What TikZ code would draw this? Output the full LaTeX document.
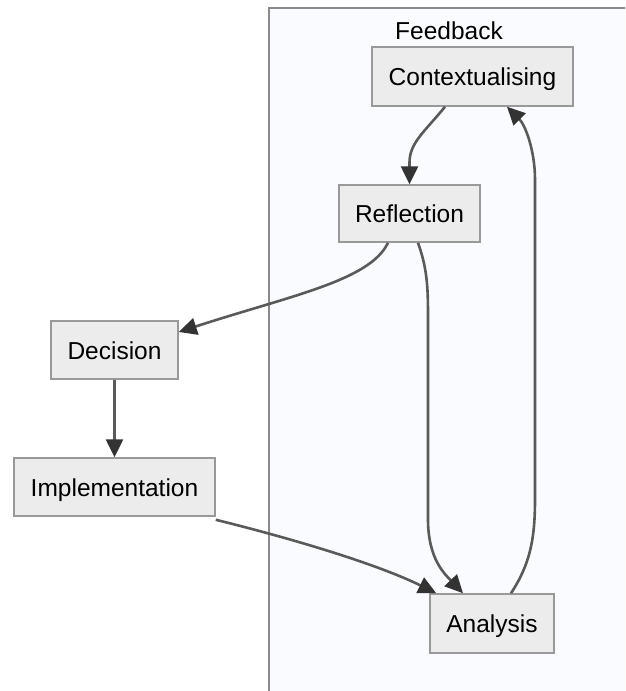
\documentclass[tikz,border=0pt]{standalone}
\usepackage{fontspec}
\setmainfont{Liberation Sans}
\usetikzlibrary{arrows.meta}
\definecolor{nodefill}{HTML}{ECECEC}
\definecolor{nodeline}{HTML}{999999}
\definecolor{edgecol}{HTML}{5A5A5A}
\definecolor{tipcol}{HTML}{333333}
\definecolor{clusterfill}{HTML}{FAFBFE}
\definecolor{clusterline}{HTML}{8A8A8A}
\tikzset{
  lbl/.style={font=\fontsize{24.5}{29}\selectfont, text=black,
    text height=23pt, text depth=5pt, inner sep=0pt},
  box/.style={lbl, draw=nodeline, fill=nodefill, line width=1.5pt},
  flow/.style={draw=edgecol, line width=2.6pt,
    -{Triangle[length=18pt,width=17pt,color=tipcol]}},
}
\begin{document}
\begin{tikzpicture}[x=1pt,y=-1pt]
\useasboundingbox (0,0) rectangle (625,691);
\begin{scope}
\clip (0,0) rectangle (625,691);
\fill[white] (0,0) rectangle (625,691);
\draw[fill=clusterfill, draw=clusterline, line width=1.5pt] (269,8) rectangle (660,720);
\end{scope}
\node[lbl] (fb) at (449,30) {Feedback};
\node[box, minimum width=201pt, minimum height=59pt] (ctx) at (472.5,76.5) {Contextualising};
\node[box, minimum width=141pt, minimum height=57pt] (refl) at (409.5,213.5) {Reflection};
\node[box, minimum width=127pt, minimum height=58pt] (dec) at (114.5,350) {Decision};
\node[box, minimum width=201pt, minimum height=58pt] (impl) at (114.5,487) {Implementation};
\node[box, minimum width=124pt, minimum height=59pt] (ana) at (492,623.5) {Analysis};
% edges
\draw[flow] ([xshift=-27.5pt]ctx.south) .. controls ([xshift=-47pt,yshift=-24pt]ctx.south) and ([xshift=-63pt,yshift=-36pt]ctx.south) .. ([yshift=22pt]refl.north) -- (refl.north);
\draw[flow] ([xshift=-21.5pt]refl.south) .. controls ([xshift=-39.5pt,yshift=-38pt]refl.south) and ([xshift=-119.5pt,yshift=-53pt]refl.south) .. ([yshift=18pt]dec.east);
\draw[flow] (dec.south) -- (impl.north);
\draw[flow] ([xshift=8.5pt]refl.south) .. controls ([xshift=18.5pt,yshift=-28pt]refl.south) and ([xshift=18.5pt,yshift=-48pt]refl.south) .. ([xshift=18.5pt,yshift=-78pt]refl.south) -- ([xshift=-64pt,yshift=74pt]ana.north) .. controls ([xshift=-64pt,yshift=34pt]ana.north) and ([xshift=-47pt,yshift=19pt]ana.north) .. ([xshift=-29pt]ana.north);
\draw[flow] ([yshift=-3pt]impl.south east) .. controls ([xshift=85pt,yshift=-24pt]impl.south east) and ([xshift=165pt,yshift=-49pt]impl.south east) .. ([xshift=7pt]ana.north west);
\draw[flow] ([xshift=19pt]ana.north) .. controls ([xshift=38pt,yshift=29pt]ana.north) and ([xshift=43pt,yshift=54pt]ana.north) .. ([xshift=43pt,yshift=94pt]ana.north) -- ([xshift=62.5pt,yshift=-73pt]ctx.south) .. controls ([xshift=62.5pt,yshift=-43pt]ctx.south) and ([xshift=52.5pt,yshift=-18pt]ctx.south) .. ([xshift=34.5pt]ctx.south);
\end{tikzpicture}
\end{document}
